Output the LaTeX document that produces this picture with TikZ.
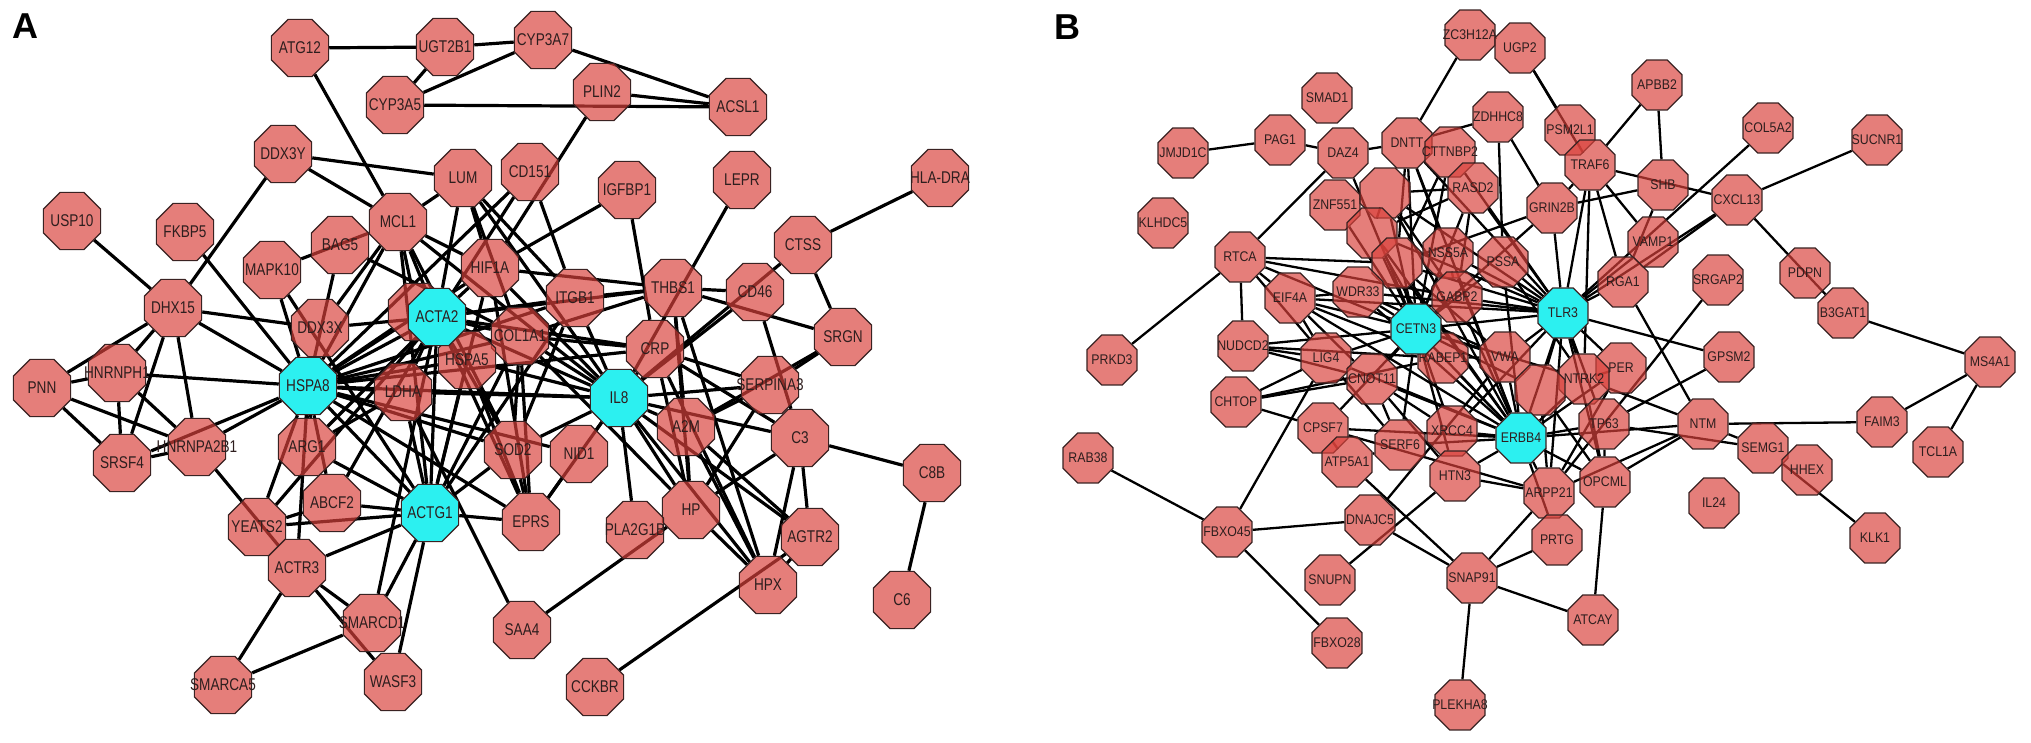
\documentclass[tikz,border=0pt]{standalone}
\usepackage{fontspec}
\setmainfont{Liberation Sans}
\newfontfamily\fnta[FakeStretch=0.8]{Liberation Sans}
\newfontfamily\fntb[FakeStretch=0.88]{Liberation Sans}
\usetikzlibrary{shapes.geometric,backgrounds}
\definecolor{salmon}{HTML}{DA413B}
\definecolor{cyanode}{HTML}{2CF0F0}
\definecolor{nodeline}{HTML}{3A2222}
\definecolor{labtext}{HTML}{2E1E1E}
\tikzset{
  octo/.style={regular polygon, regular polygon sides=8, inner sep=0pt, draw=nodeline, line width=0.6pt,
    fill=salmon, fill opacity=0.68, text opacity=1, text=labtext,
    execute at begin node={\hbox to 0pt\bgroup\hss}, execute at end node={\hss\egroup}},
  gA/.style={octo, minimum size=31pt, font=\fnta\fontsize{8.5}{9}\selectfont},
  hA/.style={gA, fill=cyanode, fill opacity=1},
  gB/.style={octo, minimum size=27pt, font=\fntb\fontsize{7}{8}\selectfont},
  hB/.style={gB, fill=cyanode, fill opacity=1},
  eA/.style={line width=1.6pt, black},
  eB/.style={line width=1.15pt, black},
  panel/.style={font=\bfseries\fontsize{18}{18}\selectfont, text=black},
}
\begin{document}
\begin{tikzpicture}[x=0.5pt,y=-0.5pt]
\useasboundingbox (0,0) rectangle (2031,743);
\node[panel] (labA) at (25,26) {A};
\node[panel] (labB) at (1067,27) {B};
% ---------------- Panel A nodes ----------------
\node[gA] (atg12) at (300,48) {ATG12};
\node[gA] (ugt2b1) at (445,47) {UGT2B1};
\node[gA] (cyp3a7) at (543,40) {CYP3A7};
\node[gA] (cyp3a5) at (395,105) {CYP3A5};
\node[gA] (plin2) at (602,92) {PLIN2};
\node[gA] (acsl1) at (738,107) {ACSL1};
\node[gA] (ddx3y) at (283,154) {DDX3Y};
\node[gA] (lum) at (463,178) {LUM};
\node[gA] (cd151) at (530,172) {CD151};
\node[gA] (igfbp1) at (627,190) {IGFBP1};
\node[gA] (lepr) at (742,180) {LEPR};
\node[gA] (hladra) at (940,178) {HLA-DRA};
\node[gA] (usp10) at (72,221) {USP10};
\node[gA] (fkbp5) at (185,232) {FKBP5};
\node[gA] (mcl1) at (398,222) {MCL1};
\node[gA] (bag5) at (340,245) {BAG5};
\node[gA] (ctss) at (803,245) {CTSS};
\node[gA] (mapk10) at (272,270) {MAPK10};
\node[gA] (hif1a) at (490,268) {HIF1A};
\node[gA] (thbs1) at (673,288) {THBS1};
\node[gA] (cd46) at (755,292) {CD46};
\node[gA] (itgb1) at (575,298) {ITGB1};
\node[gA] (dhx15) at (173,308) {DHX15};
\node[gA] (hid) at (417,312) {};
\node[gA] (ddx3x) at (320,328) {DDX3X};
\node[gA] (col1a1) at (520,336) {COL1A1};
\node[gA] (srgn) at (843,337) {SRGN};
\node[gA] (crp) at (655,349) {CRP};
\node[gA] (hspa5) at (467,360) {HSPA5};
\node[gA] (hnrnph1) at (117,373) {HNRNPH1};
\node[gA] (pnn) at (42,388) {PNN};
\node[gA] (serpina3) at (770,385) {SERPINA3};
\node[gA] (ldha) at (403,392) {LDHA};
\node[gA] (a2m) at (686,427) {A2M};
\node[gA] (c3) at (800,438) {C3};
\node[gA] (arg1) at (307,447) {ARG1};
\node[gA] (hnrnpa2b1) at (197,447) {HNRNPA2B1};
\node[gA] (sod2) at (513,450) {SOD2};
\node[gA] (nid1) at (579,454) {NID1};
\node[gA] (srsf4) at (122,463) {SRSF4};
\node[gA] (c8b) at (932,473) {C8B};
\node[gA] (abcf2) at (332,503) {ABCF2};
\node[gA] (hp) at (691,510) {HP};
\node[gA] (eprs) at (531,522) {EPRS};
\node[gA] (yeats2) at (257,527) {YEATS2};
\node[gA] (pla2g1b) at (635,530) {PLA2G1B};
\node[gA] (agtr2) at (810,537) {AGTR2};
\node[gA] (actr3) at (297,568) {ACTR3};
\node[gA] (hpx) at (768,585) {HPX};
\node[gA] (c6) at (902,600) {C6};
\node[gA] (smarcd1) at (372,623) {SMARCD1};
\node[gA] (saa4) at (522,630) {SAA4};
\node[gA] (smarca5) at (223,685) {SMARCA5};
\node[gA] (wasf3) at (393,682) {WASF3};
\node[gA] (cckbr) at (595,687) {CCKBR};
\node[hA] (acta2) at (437,317) {ACTA2};
\node[hA] (hspa8) at (308,386) {HSPA8};
\node[hA] (il8) at (619,398) {IL8};
\node[hA] (actg1) at (430,513) {ACTG1};
% ---------------- Panel B nodes ----------------
\node[gB] (zc3h12a) at (1470,35) {ZC3H12A};
\node[gB] (ugp2) at (1520,48) {UGP2};
\node[gB] (smad1) at (1327,98) {SMAD1};
\node[gB] (apbb2) at (1657,85) {APBB2};
\node[gB] (zdhhc8) at (1498,117) {ZDHHC8};
\node[gB] (psm2l1) at (1570,130) {PSM2L1};
\node[gB] (col5a2) at (1768,128) {COL5A2};
\node[gB] (sucnr1) at (1877,140) {SUCNR1};
\node[gB] (jmjd1c) at (1183,153) {JMJD1C};
\node[gB] (pag1) at (1280,140) {PAG1};
\node[gB] (daz4) at (1343,153) {DAZ4};
\node[gB] (dntt) at (1407,143) {DNTT};
\node[gB] (cttnbp2) at (1450,152) {CTTNBP2};
\node[gB] (traf6) at (1590,165) {TRAF6};
\node[gB] (shb) at (1663,185) {SHB};
\node[gB] (rasd2) at (1473,188) {RASD2};
\node[gB] (znf551) at (1335,205) {ZNF551};
\node[gB] (h1) at (1385,193) {};
\node[gB] (cxcl13) at (1737,200) {CXCL13};
\node[gB] (grin2b) at (1552,208) {GRIN2B};
\node[gB] (klhdc5) at (1163,223) {KLHDC5};
\node[gB] (h2) at (1372,233) {};
\node[gB] (vamp1) at (1653,242) {VAMP1};
\node[gB] (rtca) at (1240,257) {RTCA};
\node[gB] (css5a) at (1448,253) {NSS5A};
\node[gB] (h3) at (1397,263) {};
\node[gB] (nssa) at (1503,262) {PSSA};
\node[gB] (pdpn) at (1805,273) {PDPN};
\node[gB] (srgap2) at (1718,280) {SRGAP2};
\node[gB] (pga1) at (1623,282) {RGA1};
\node[gB] (eif4a) at (1290,298) {EIF4A};
\node[gB] (wdr33) at (1358,292) {WDR33};
\node[gB] (gabp) at (1457,297) {GABP2};
\node[gB] (b3gat1) at (1843,313) {B3GAT1};
\node[gB] (nudcd2) at (1243,346) {NUDCD2};
\node[gB] (prkd3) at (1112,360) {PRKD3};
\node[gB] (lig4) at (1326,358) {LIG4};
\node[gB] (abby) at (1443,358) {RABEP1};
\node[gB] (vwn) at (1505,357) {VWA};
\node[gB] (gpsm2) at (1729,357) {GPSM2};
\node[gB] (ms4a1) at (1990,362) {MS4A1};
\node[gB] (cer) at (1621,368) {PER};
\node[gB] (cnot) at (1372,379) {CNOT11};
\node[gB] (ntrk2) at (1584,379) {NTRK2};
\node[gB] (h4) at (1540,390) {};
\node[gB] (chtop) at (1236,402) {CHTOP};
\node[gB] (tp63) at (1604,424) {TP63};
\node[gB] (ntm) at (1703,424) {NTM};
\node[gB] (faim3) at (1882,422) {FAIM3};
\node[gB] (cpsf7) at (1323,428) {CPSF7};
\node[gB] (xrcc4) at (1452,431) {XRCC4};
\node[gB] (serf6) at (1400,445) {SERF6};
\node[gB] (semg1) at (1763,448) {SEMG1};
\node[gB] (tcl1a) at (1938,452) {TCL1A};
\node[gB] (rab38) at (1088,458) {RAB38};
\node[gB] (atp5a1) at (1347,462) {ATP5A1};
\node[gB] (hhex) at (1807,470) {HHEX};
\node[gB] (htn3) at (1455,476) {HTN3};
\node[gB] (opcml) at (1605,482) {OPCML};
\node[gB] (arpp21) at (1549,493) {ARPP21};
\node[gB] (il24) at (1714,503) {IL24};
\node[gB] (dnajc5) at (1370,520) {DNAJC5};
\node[gB] (fbxo45) at (1227,532) {FBXO45};
\node[gB] (klk1) at (1875,538) {KLK1};
\node[gB] (prtg) at (1557,540) {PRTG};
\node[gB] (snupn) at (1330,580) {SNUPN};
\node[gB] (snap91) at (1472,578) {SNAP91};
\node[gB] (atcay) at (1593,620) {ATCAY};
\node[gB] (fbxo28) at (1337,643) {FBXO28};
\node[gB] (plekha8) at (1460,705) {PLEKHA8};
\node[hB] (tlr3) at (1563,313) {TLR3};
\node[hB] (cetn3) at (1416,329) {CETN3};
\node[hB] (erbb4) at (1521,438) {ERBB4};
% ---------------- edges ----------------
\begin{scope}[on background layer]
\fill[white] (0,0) rectangle (2031,743);
\foreach \a/\b in {atg12/ugt2b1, ugt2b1/cyp3a7, ugt2b1/cyp3a5, cyp3a5/cyp3a7, cyp3a5/acsl1, cyp3a7/acsl1,
  plin2/acsl1, plin2/hif1a, atg12/mcl1, ddx3y/lum, ddx3y/mcl1, ddx3y/dhx15, lum/mcl1, lum/acta2, lum/hif1a,
  lum/col1a1, lum/il8, lum/itgb1, cd151/itgb1, cd151/hspa8, cd151/acta2, igfbp1/hif1a, igfbp1/crp, lepr/il8,
  hladra/ctss, ctss/srgn, ctss/il8, usp10/dhx15, fkbp5/hspa8, mapk10/mcl1, mapk10/hspa8, mapk10/actg1,
  bag5/hspa8, bag5/col1a1, mcl1/hspa8, mcl1/acta2, mcl1/hif1a, mcl1/il8, mcl1/sod2, mcl1/actg1, mcl1/ddx3x,
  hif1a/thbs1, hif1a/acta2, hif1a/il8, hif1a/hspa8, hif1a/actg1, hif1a/eprs, itgb1/thbs1, itgb1/acta2,
  itgb1/il8, itgb1/hspa8, itgb1/actg1, itgb1/sod2, thbs1/col1a1, thbs1/cd46, thbs1/srgn, thbs1/hp, thbs1/a2m,
  thbs1/crp, thbs1/acta2, thbs1/hpx, cd46/il8, cd46/c3, dhx15/hnrnph1, dhx15/pnn, dhx15/srsf4,
  dhx15/hnrnpa2b1, dhx15/hspa8, dhx15/ddx3x, hid/hspa8, hid/mcl1, acta2/hspa8, acta2/ddx3x, acta2/col1a1,
  acta2/hspa5, acta2/crp, acta2/il8, acta2/actg1, acta2/ldha, acta2/arg1, acta2/sod2, acta2/eprs,
  acta2/abcf2, acta2/yeats2, acta2/smarcd1, ddx3x/hspa8, ddx3x/arg1, col1a1/hspa8, col1a1/il8, col1a1/crp,
  col1a1/actg1, col1a1/sod2, col1a1/eprs, col1a1/hp, srgn/serpina3, srgn/a2m, crp/il8, crp/hspa8, crp/hp,
  crp/hpx, crp/serpina3, crp/c3, hspa5/hspa8, hspa5/il8, hspa5/sod2, hspa5/actg1, hspa5/eprs,
  hnrnph1/pnn, hnrnph1/srsf4, hnrnph1/hnrnpa2b1, hnrnph1/hspa8, hspa8/hnrnpa2b1, hspa8/srsf4, hspa8/ldha,
  hspa8/il8, hspa8/arg1, hspa8/abcf2, hspa8/actg1, hspa8/sod2, hspa8/eprs, hspa8/nid1, hspa8/actr3,
  hspa8/yeats2, pnn/srsf4, pnn/hnrnpa2b1, serpina3/il8, serpina3/hp, serpina3/a2m, ldha/il8, ldha/actg1,
  ldha/saa4, ldha/arg1, il8/a2m, il8/c3, il8/sod2, il8/nid1, il8/hp, il8/pla2g1b, il8/agtr2, il8/hpx,
  il8/eprs, a2m/agtr2, a2m/hp, a2m/hpx, c3/hp, c3/agtr2, c3/hpx, c3/c8b, c8b/c6, arg1/actg1,
  hnrnpa2b1/srsf4, hnrnpa2b1/actr3, sod2/eprs, sod2/actg1, nid1/eprs, abcf2/actg1, abcf2/yeats2,
  hp/hpx, hp/saa4, actg1/eprs, actg1/actr3, actg1/smarcd1, actg1/wasf3, actg1/yeats2, agtr2/hpx,
  cckbr/agtr2, actr3/smarca5, actr3/smarcd1, actr3/wasf3, smarca5/smarcd1}
  \draw[eA] (\a) -- (\b);
\foreach \a/\b in {zc3h12a/dntt, ugp2/traf6, ugp2/psm2l1, jmjd1c/pag1, pag1/daz4, daz4/dntt, dntt/zdhhc8,
  daz4/rtca, dntt/cttnbp2, zdhhc8/nssa, zdhhc8/grin2b, apbb2/traf6, apbb2/shb, traf6/cxcl13, traf6/grin2b,
  traf6/tlr3, traf6/vamp1, traf6/pga1, traf6/ntrk2, traf6/psm2l1, shb/grin2b, shb/pga1, col5a2/tlr3,
  sucnr1/cxcl13, cxcl13/pga1, cxcl13/tlr3, cxcl13/b3gat1, b3gat1/ms4a1, ms4a1/faim3, ms4a1/tcl1a,
  faim3/ntm, ntm/semg1, tp63/semg1, semg1/klk1, srgap2/arpp21, gpsm2/tlr3, gpsm2/tp63, ntm/erbb4,
  ntm/opcml, ntm/arpp21, ntm/pga1, ntm/ntrk2, opcml/atcay, atcay/snap91, snap91/plekha8, snap91/atp5a1,
  snap91/dnajc5, snap91/arpp21, dnajc5/fbxo45, snupn/htn3, dnajc5/vwn, fbxo45/rab38, fbxo45/fbxo28,
  fbxo45/lig4, chtop/lig4, chtop/cnot, chtop/cpsf7, chtop/abby, cpsf7/atp5a1, cpsf7/arpp21, atp5a1/serf6,
  xrcc4/erbb4, htn3/erbb4, htn3/arpp21, prtg/snap91, prtg/erbb4, prkd3/rtca, rtca/nudcd2, rtca/lig4,
  rtca/h3, rtca/cetn3, rtca/eif4a, rtca/gabp, nudcd2/lig4, nudcd2/abby, nudcd2/cnot, grin2b/tlr3,
  grin2b/h3, grin2b/cetn3, rasd2/gabp, rasd2/tlr3, cttnbp2/tlr3,
  cetn3/h1, cetn3/h2, cetn3/dntt, cetn3/cttnbp2, cetn3/rasd2, cetn3/znf551, cetn3/css5a, cetn3/h3,
  cetn3/nssa, cetn3/eif4a, cetn3/wdr33, cetn3/gabp, cetn3/lig4, cetn3/cnot, cetn3/abby, cetn3/vwn,
  cetn3/xrcc4, cetn3/htn3, cetn3/cpsf7, cetn3/serf6, cetn3/nudcd2, cetn3/tlr3, cetn3/erbb4, cetn3/ntrk2,
  cetn3/h4, cetn3/daz4,
  tlr3/h1, tlr3/h2, tlr3/dntt, tlr3/css5a, tlr3/h3, tlr3/nssa, tlr3/eif4a, tlr3/wdr33, tlr3/gabp,
  tlr3/vwn, tlr3/h4, tlr3/ntrk2, tlr3/cer, tlr3/tp63, tlr3/opcml, tlr3/arpp21, tlr3/erbb4, tlr3/xrcc4,
  tlr3/pga1, tlr3/vamp1,
  erbb4/h1, erbb4/h2, erbb4/h3, erbb4/css5a, erbb4/nssa, erbb4/gabp, erbb4/wdr33, erbb4/eif4a, erbb4/vwn,
  erbb4/h4, erbb4/ntrk2, erbb4/cer, erbb4/tp63, erbb4/opcml, erbb4/arpp21, erbb4/lig4, erbb4/cnot,
  erbb4/abby, erbb4/serf6, erbb4/cpsf7, erbb4/dntt,
  h1/h2, h1/dntt, h1/rasd2, h2/h3, dntt/h3, cttnbp2/h3, znf551/h1, css5a/gabp, css5a/h3, wdr33/eif4a,
  wdr33/h3, eif4a/lig4, lig4/cnot, cnot/htn3, cnot/xrcc4, abby/vwn, vwn/h4, h4/opcml, h4/arpp21,
  ntrk2/cer, ntrk2/opcml, cer/arpp21, tp63/opcml, nssa/ntrk2, lig4/serf6, cnot/serf6, eif4a/cnot,
  h1/gabp, h2/abby, h3/vwn, dntt/css5a, rasd2/h2, wdr33/vwn, eif4a/abby}
  \draw[eB] (\a) -- (\b);
\end{scope}
\end{tikzpicture}
\end{document}
